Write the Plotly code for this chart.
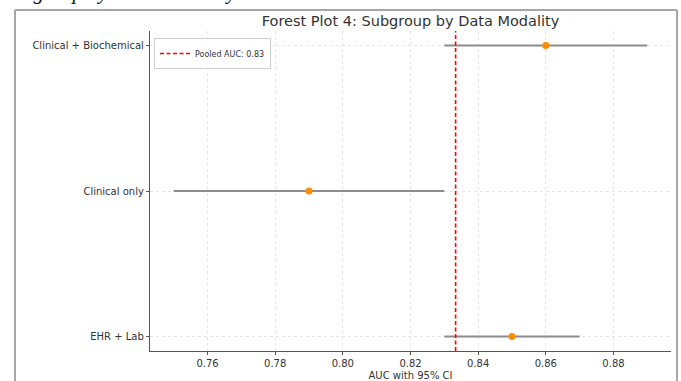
import plotly.graph_objects as go

# Data
groups = ["Clinical + Biochemical", "Clinical only", "EHR + Lab"]
auc = [0.86, 0.79, 0.85]
ci_low = [0.83, 0.75, 0.83]
ci_high = [0.89, 0.83, 0.87]
pooled_auc = sum(auc) / len(auc)
x_ticks = [0.76, 0.78, 0.80, 0.82, 0.84, 0.86, 0.88]

W, H = 681, 381
L, R, T, B = 150, 10, 31, 30
pw, ph = W - L - R, H - T - B


def px_x(p):
    return (p - L) / pw


def px_y(p):
    return (H - B - p) / ph


fig = go.Figure()
fig.add_trace(go.Scatter(
    x=auc, y=groups, mode="markers",
    marker=dict(color="#ff8c00", size=7),
    error_x=dict(type="data", symmetric=False,
                 array=[h - a for h, a in zip(ci_high, auc)],
                 arrayminus=[a - l for a, l in zip(auc, ci_low)],
                 color="#8c8c8c", thickness=2, width=0),
    showlegend=False, hoverinfo="skip",
))

fig.add_shape(type="line", xref="x", yref="paper", x0=pooled_auc, x1=pooled_auc,
              y0=0, y1=1, line=dict(color="#ff0000", width=1.6, dash="4px,2.5px"),
              showlegend=True, name=f"Pooled AUC: {pooled_auc:.2f}")

# outer frame of the embedded image
frame = dict(color="#a6a6a6", width=2)
fig.add_shape(type="line", xref="paper", yref="paper", x0=px_x(15), x1=px_x(677),
              y0=px_y(10), y1=px_y(10), line=frame)
fig.add_shape(type="line", xref="paper", yref="paper", x0=px_x(15), x1=px_x(15),
              y0=px_y(10), y1=px_y(400), line=frame)
fig.add_shape(type="line", xref="paper", yref="paper", x0=px_x(677), x1=px_x(677),
              y0=px_y(10), y1=px_y(400), line=frame)

fig.add_annotation(text="Subgroup by Data Modality", xref="paper", yref="paper",
                   x=px_x(0), y=px_y(-8), xanchor="left", yanchor="middle",
                   showarrow=False,
                   font=dict(family="Liberation Serif", size=21, color="#111", style="italic"))

fig.update_layout(
    width=W, height=H,
    margin=dict(l=L, r=R, t=T, b=B, pad=0, autoexpand=False),
    paper_bgcolor="white", plot_bgcolor="white",
    font=dict(family="DejaVu Sans", color="#333"),
    title=dict(text="Forest Plot 4: Subgroup by Data Modality", xref="paper", x=0.5,
               xanchor="center", yref="container", y=1 - 21 / H, yanchor="middle",
               font=dict(size=14.5, color="#333")),
    legend=dict(x=px_x(154), y=px_y(38), xanchor="left", yanchor="top",
                bgcolor="rgba(255,255,255,0.85)", bordercolor="#d0d0d0", borderwidth=1,
                font=dict(size=8, color="#333"), itemwidth=30,
                tracegroupgap=0),
    xaxis=dict(range=[0.743, 0.897], tickvals=x_ticks, automargin=False,
               ticktext=[f"{v:.2f}" for v in x_ticks],
               showgrid=True, gridcolor="#e6e6e6", griddash="dot", gridwidth=1,
               showline=True, linecolor="#555", linewidth=1.3,
               ticks="outside", ticklen=3, tickcolor="#555",
               tickfont=dict(size=10, color="#333"), zeroline=False,
               title=dict(text="AUC with 95% CI", font=dict(size=10, color="#333"), standoff=4)),
    yaxis=dict(type="category", categoryorder="array", categoryarray=groups[::-1],
               range=[-0.1, 2.1], automargin=False,
               showgrid=True, gridcolor="#e6e6e6", griddash="dot", gridwidth=1,
               showline=True, linecolor="#555", linewidth=1.3,
               ticks="outside", ticklen=3, tickcolor="#555",
               tickfont=dict(size=10, color="#333"), zeroline=False),
)

fig.write_html("out.html")
